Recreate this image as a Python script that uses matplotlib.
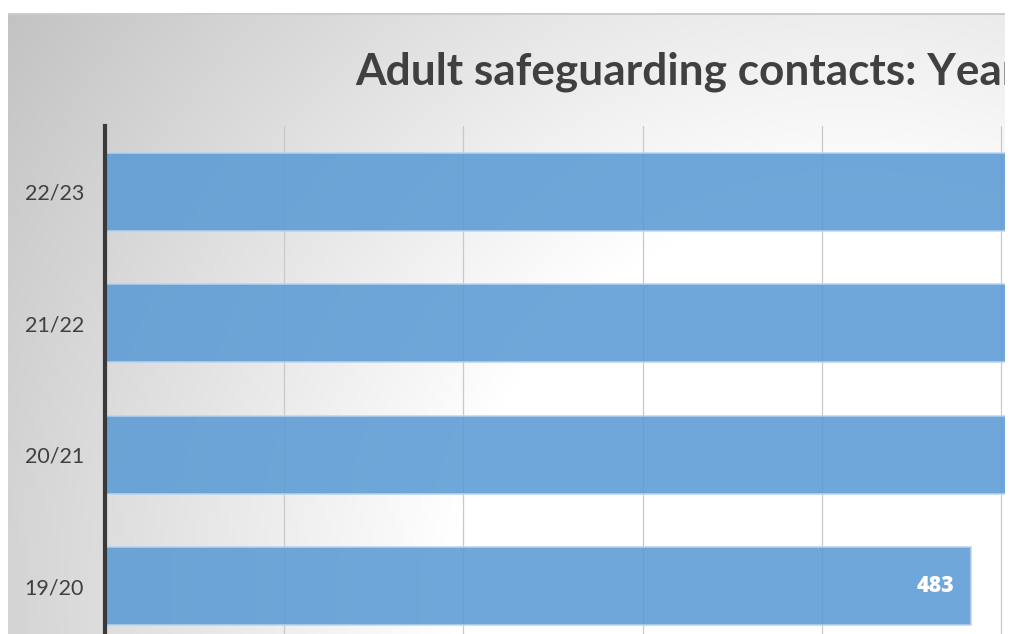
import numpy as np
import matplotlib
matplotlib.use("Agg")
import matplotlib.pyplot as plt
from matplotlib.patches import Rectangle

# Data
years = ["19/20", "20/21", "21/22", "22/23"]
contacts = [483, 562, 611, 646]
title_text = "Adult safeguarding contacts: Year on year comparison"

W, H, DPI = 1011, 634, 100
fig = plt.figure(figsize=(W / DPI, H / DPI), dpi=DPI)
fig.patch.set_facecolor("white")

# Soft radial grey backdrop of the chart area
px = np.arange(W)[None, :]
py = np.arange(H)[:, None]
dist = np.hypot(px - 850, py - 600)
t = np.clip((dist - 400) / (1030 - 400), 0, 1)
val = (255 - t * (255 - 194)) / 255.0
bg = np.repeat(val[:, :, None], 3, axis=2)
bg[:, :8] = 1.0
bg[:14, :] = 1.0
bg[:, 1005:] = 1.0
bg[13:15, 8:1005] = 0.80

bax = fig.add_axes([0, 0, 1, 1], zorder=-5)
bax.imshow(bg, extent=(0, W, H, 0), aspect="auto", interpolation="bilinear")
bax.set_xlim(0, W)
bax.set_ylim(H, 0)
bax.axis("off")

# Plot area (extends past the right and bottom edges of the canvas)
px_per_unit = 1.792
xmax = 800
left_px, top_px = 105, 126
band_px = 131.5
ax_w = xmax * px_per_unit
ax_h = band_px * len(years)
ax = fig.add_axes([left_px / W, (H - top_px - ax_h) / H, ax_w / W, ax_h / H])
ax.patch.set_alpha(0)

y = np.arange(len(years))
bars = ax.barh(y, contacts, height=0.59, color="#5B9BD5", alpha=0.88,
               edgecolor="#b9d3ef", linewidth=1.2, zorder=3)
ax.set_xlim(0, xmax)
ax.set_ylim(-0.5, len(years) - 0.5)

ax.set_xticks(np.arange(100, xmax + 1, 100))
ax.xaxis.grid(True, color="#c9c9c9", linewidth=0.9, zorder=1)
ax.set_axisbelow(True)
ax.tick_params(axis="x", length=0, labelbottom=False)

ax.set_yticks(y)
ax.set_yticklabels(years, fontsize=15.5, color="#404040", family="Lato")
ax.tick_params(axis="y", length=0, pad=15)

for s in ("top", "right", "bottom"):
    ax.spines[s].set_visible(False)
ax.spines["left"].set_color("#3a3a3a")
ax.spines["left"].set_linewidth(3.0)
ax.spines["left"].set_zorder(5)

# Value labels sit just inside the end of each bar; those whose bar runs
# past the visible canvas are left out.
visible_limit = (1005 - left_px) / px_per_unit
for b, v in zip(bars, contacts):
    if v > visible_limit:
        continue
    ax.text(v - 9, b.get_y() + b.get_height() / 2, f"{v}", ha="right", va="center",
            color="white", fontsize=15.5, fontweight="heavy", family="Open Sans",
            zorder=6)

fig.text(355 / W, 1 - 84 / H, title_text, ha="left", va="baseline",
         fontsize=31.8, fontweight="bold", color="#404040", family="Lato")

# Right margin of the canvas stays white
fig.patches.append(Rectangle((1005 / W, 0), 1, 1, transform=fig.transFigure,
                             facecolor="white", edgecolor="none", zorder=20))

fig.savefig("out.png", dpi=DPI)
